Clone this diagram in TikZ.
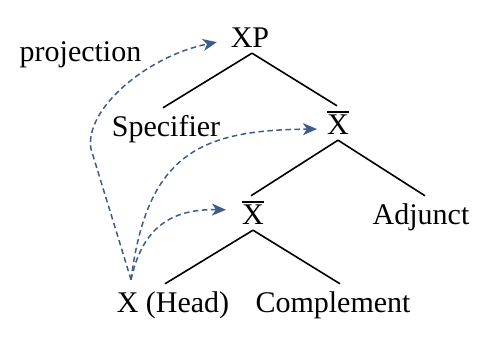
\documentclass[tikz,border=0pt]{standalone}
\usepackage{fontspec}
\setmainfont{Liberation Serif}
\newfontfamily\treefont{Liberation Serif}
\usetikzlibrary{arrows.meta}
\definecolor{projblue}{RGB}{62,92,140}
\newcommand{\xbar}{\hbox{\vbox{\hrule height 1.7pt \kern 2.6pt \hbox{X}}}}

\begin{document}
\begin{tikzpicture}[x=1pt, y=1pt, font=\treefont\fontsize{30}{36}\selectfont,
        cat/.style={anchor=base, inner xsep=3pt, inner ysep=5pt, text height=24pt, text depth=0pt},
        branch/.style={line width=1.6pt},
        proj/.style={projblue, line width=1.5pt, dash pattern=on 5.5pt off 3.5pt,
            -{Stealth[length=14pt, width=12pt, inset=4pt]}}]
        \useasboundingbox (0,0) rectangle (500,344);

        % Label
        \node[anchor=base] (proj) at (80.5,282) {projection};

        % Tree nodes
        \node[cat] (xp) at (250,296) {XP};
        \node[cat] (spec) at (166,207) {Specifier};
        \node[cat] (xbar1) at (338,209) {\xbar};
        \node[cat] (xbar2) at (253,119) {\xbar};
        \node[cat] (adj) at (421,119) {Adjunct};
        \node[cat] (head) at (173,31) {X (Head)};
        \node[cat] (comp) at (333,31) {Complement};

        % Branches
        \draw[branch] ([xshift=2pt]xp.south) -- ([xshift=-3pt]spec.north);
        \draw[branch] ([xshift=2pt]xp.south) -- ([xshift=-1pt]xbar1.north);
        \draw[branch] (xbar1.south) -- ([xshift=-2pt]xbar2.north);
        \draw[branch] (xbar1.south) -- ([xshift=4pt]adj.north);
        \draw[branch] (xbar2.south) -- ([xshift=-8pt]head.north);
        \draw[branch] (xbar2.south) -- ([xshift=7pt]comp.north);

        % Projection arrows from the head
        \coordinate (hx) at ([xshift=-42pt, yshift=4pt]head.north);
        \draw[proj, shorten >=11pt] (hx) .. controls +(-13,43) and +(7,-23) .. (91,195)
            .. controls +(-7,40) and +(-80,-16) .. ([yshift=-4pt]xp.west);
        \draw[proj, shorten >=7pt] (hx) .. controls (147,190) and (200,214) .. ([yshift=-6pt]xbar1.west);
        \draw[proj, shorten >=13pt] (hx) .. controls (143,120) and (175,135) .. ([yshift=3pt]xbar2.west);
    \end{tikzpicture}
\end{document}
